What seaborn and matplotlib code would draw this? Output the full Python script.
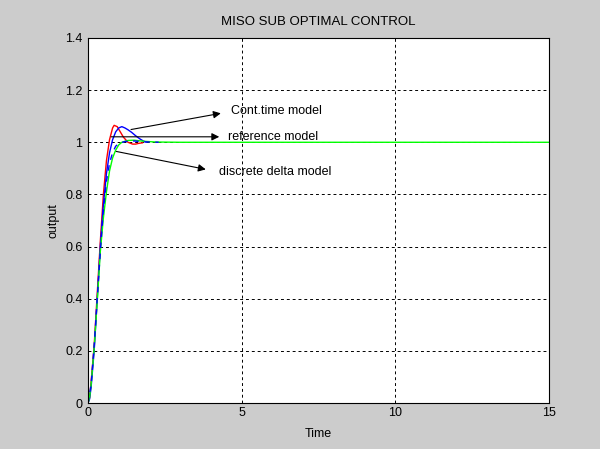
import pandas as pd
import matplotlib
matplotlib.use("Agg")
import matplotlib.pyplot as plt
import seaborn as sns

# Values
t_red = [0, 0.05, 0.1, 0.2, 0.3, 0.4, 0.5, 0.6, 0.7, 0.8, 0.85, 0.95, 1.05, 1.15, 1.3, 1.45, 1.55, 1.65, 1.78]
y_red = [0, 0.02, 0.08, 0.22, 0.42, 0.62, 0.8, 0.93, 1.01, 1.055, 1.065, 1.06, 1.04, 1.02, 1.0, 0.993, 0.993, 0.996, 0.998]

t_blue = [0, 0.05, 0.1, 0.2, 0.3, 0.4, 0.5, 0.6, 0.7, 0.8, 0.9, 1.0, 1.1, 1.2, 1.3, 1.42, 1.55, 1.7, 1.8, 1.91]
y_blue = [0, 0.015, 0.06, 0.2, 0.4, 0.6, 0.76, 0.88, 0.96, 1.01, 1.04, 1.055, 1.06, 1.055, 1.048, 1.038, 1.025, 1.012, 1.005, 1.0]

t_green = [0, 0.05, 0.1, 0.2, 0.3, 0.4, 0.5, 0.6, 0.7, 0.8, 0.9, 1.0, 1.1, 1.3, 1.5, 1.8, 2.2, 3.0, 15]
y_green = [0, 0.02, 0.07, 0.21, 0.39, 0.58, 0.71, 0.81, 0.89, 0.94, 0.97, 0.99, 1.0, 1.007, 1.008, 1.004, 1.001, 1.0, 1.0]

t_ref = [0, 0.1, 0.2, 0.3, 0.4, 0.5, 0.6, 0.7, 0.8, 0.9, 1.0, 1.2, 1.5, 1.8, 2.3]
y_ref = [0, 0.07, 0.22, 0.4, 0.58, 0.74, 0.85, 0.92, 0.96, 0.985, 0.995, 1.003, 1.005, 1.002, 1.0]

x_ticks = [0, 5, 10, 15]
y_ticks = [0, 0.2, 0.4, 0.6, 0.8, 1.0, 1.2, 1.4]
y_labels = ["0", "0.2", "0.4", "0.6", "0.8", "1", "1.2", "1.4"]

# annotation: label, arrow start (t, y), arrow tip (t, y), text (t, y)
notes = [
    ("Cont.time model", (1.31, 1.047), (4.41, 1.113), (4.66, 1.121)),
    ("reference model", (0.66, 1.021), (4.36, 1.021), (4.57, 1.021)),
    ("discrete delta model", (0.83, 0.967), (3.92, 0.894), (4.27, 0.887)),
]

sns.set_style("white")
plt.rcParams["font.family"] = ["Liberation Sans", "DejaVu Sans"]
plt.rcParams["text.color"] = "black"
plt.rcParams["axes.labelcolor"] = "black"

fig = plt.figure(figsize=(6, 4.49), dpi=100, facecolor="#cccccc")
ax = fig.add_axes([0.1467, 0.1024, 0.7683, 0.8130])
ax.set_facecolor("white")

sns.lineplot(x=t_red, y=y_red, color="#ff0000", lw=1, sort=False, estimator=None, ax=ax)
sns.lineplot(x=t_blue, y=y_blue, color="#0000ff", lw=1, sort=False, estimator=None, ax=ax)
sns.lineplot(x=t_green, y=y_green, color="#00ff00", lw=1, sort=False, estimator=None, ax=ax)
sns.lineplot(x=t_ref, y=y_ref, color="#0000ff", lw=1, linestyle=(0, (4, 4)), sort=False, estimator=None, ax=ax)

for label, start, tip, pos in notes:
    ax.annotate("", xy=tip, xytext=start,
                arrowprops=dict(arrowstyle="-|>", color="black", lw=0.8, mutation_scale=11))
    ax.text(pos[0], pos[1], label, fontsize=9, va="center", ha="left", color="black")

ax.set_xlim(0, 15)
ax.set_ylim(0, 1.4)
ax.set_xticks(x_ticks)
ax.set_yticks(y_ticks)
ax.set_yticklabels(y_labels)
ax.tick_params(direction="in", length=4, labelsize=9, colors="black")
ax.tick_params(axis="x", pad=3)
ax.tick_params(axis="y", pad=4)
ax.grid(True, color="black", linestyle=(0, (3, 3)), lw=0.7)
for s in ax.spines.values():
    s.set_color("black")
    s.set_linewidth(0.8)

ax.set_title("MISO SUB OPTIMAL CONTROL", fontsize=9.5, pad=9, color="black")
ax.set_xlabel("Time", fontsize=9, labelpad=6)
ax.set_ylabel("output", fontsize=9)

fig.savefig("out.png", dpi=100, facecolor=fig.get_facecolor())
